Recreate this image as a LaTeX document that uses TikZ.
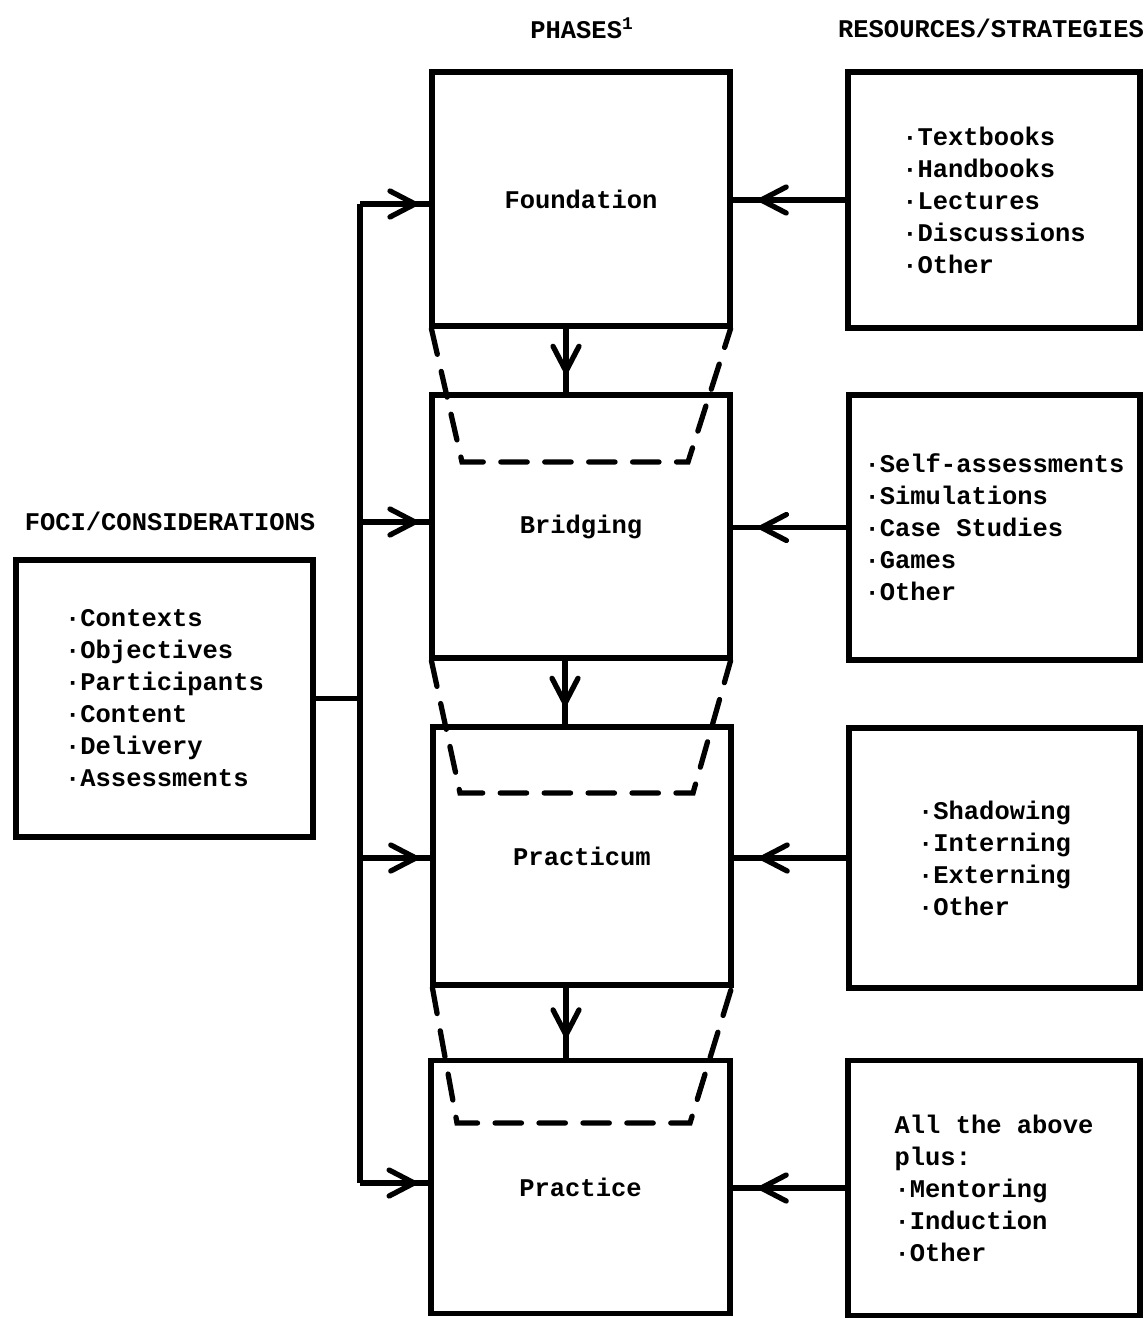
\documentclass[tikz,border=0pt]{standalone}
\usepackage{fontspec}
\setmainfont{Liberation Mono}
\usetikzlibrary{arrows.meta,decorations.markings}
\begin{document}
\begin{tikzpicture}[x=0.02cm,y=-0.02cm,
  txt/.style={font=\fontsize{14.5}{18.2}\selectfont\bfseries},
  box/.style={draw, line width=3pt, inner sep=0pt, align=left, txt},
  conn/.style={line width=3pt},
  barb/.tip={Straight Barb[length=0.5cm,width=0.52cm,line cap=round,line join=round]},
  tipat/.style={conn, postaction={decorate}, decoration={markings, mark=at position #1 with {\arrow{barb}}}},
  trap/.style={line width=3pt, dash pattern=on 15pt off 10pt, line cap=round}
]
\useasboundingbox (0,0) rectangle (1145,1318);

% headers
\node[txt] (hphase) at (582,28) {PHASES\textsuperscript{1}};
\node[txt] (hres) at (991,28) {RESOURCES/STRATEGIES};
\node[txt] (hfoci) at (170,521) {FOCI/CONSIDERATIONS};

% phase boxes
\node[box, minimum width=5.96cm, minimum height=5.08cm] (found) at (581,199) {Foundation};
\node[box, minimum width=5.96cm, minimum height=5.26cm] (bridg) at (581,526.5) {Bridging};
\node[box, minimum width=5.96cm, minimum height=5.16cm] (pract) at (582,856) {Practicum};
\node[box, minimum width=5.98cm, minimum height=5.06cm] (prac) at (580.5,1187) {Practice};

% resource boxes
\node[box, minimum width=5.84cm, minimum height=5.12cm] (res1) at (994,200)
  {·Textbooks\\·Handbooks\\·Lectures\\·Discussions\\·Other};
\node[box, minimum width=5.82cm, minimum height=5.30cm] (res2) at (994.5,527.5)
  {·Self-assessments\\·Simulations\\·Case Studies\\·Games\\·Other};
\node[box, minimum width=5.82cm, minimum height=5.20cm] (res3) at (994.5,858)
  {·Shadowing\\·Interning\\·Externing\\·Other};
\node[box, minimum width=5.84cm, minimum height=5.10cm] (res4) at (994,1188)
  {All the above\\plus:\\·Mentoring\\·Induction\\·Other};

% foci box
\node[box, minimum width=5.94cm, minimum height=5.54cm] (foci) at (164.5,698.5)
  {·Contexts\\·Objectives\\·Participants\\·Content\\·Delivery\\·Assessments};

% bus
\coordinate (b1) at (360,204);
\coordinate (b2) at (360,522);
\coordinate (b3) at (360,858);
\coordinate (b4) at (360,1183);
\draw[conn] (b1) -- (b4);
\draw[conn] (foci.east) -- (foci.east -| b1);
\draw[tipat=0.83] (b1) -- (b1 -| found.west);
\draw[tipat=0.83] (b2) -- (b2 -| bridg.west);
\draw[tipat=0.83] (b3) -- (b3 -| pract.west);
\draw[tipat=0.83] (b4) -- (b4 -| prac.west);

% resource arrows
\draw[tipat=0.77] (res1.west) -- (res1.west -| found.east);
\draw[tipat=0.77] (res2.west) -- (res2.west -| bridg.east);
\draw[tipat=0.77] (res3.west) -- (res3.west -| pract.east);
\draw[tipat=0.77] (res4.west) -- (res4.west -| prac.east);

% down arrows
\draw[tipat=0.71] ([xshift=-0.3cm]found.south) -- ([xshift=-0.3cm]found.south |- bridg.north);
\draw[tipat=0.71] ([xshift=-0.32cm]bridg.south) -- ([xshift=-0.32cm]bridg.south |- pract.north);
\draw[tipat=0.71] ([xshift=-0.32cm]pract.south) -- ([xshift=-0.32cm]pract.south |- prac.north);

% dashed trapezoids
\coordinate (t1l) at (462,462);
\coordinate (t1r) at (688,462);
\coordinate (t2l) at (460,793);
\coordinate (t2r) at (693,793);
\coordinate (t3l) at (457,1123);
\coordinate (t3r) at (690,1123);
\draw[trap] ([xshift=0.04cm]found.south west) -- (t1l) -- (t1r) -- ([xshift=-0.04cm]found.south east);
\draw[trap] ([xshift=0.04cm]bridg.south west) -- (t2l) -- (t2r) -- ([xshift=-0.04cm]bridg.south east);
\draw[trap] ([xshift=0.04cm]pract.south west) -- (t3l) -- (t3r) -- ([xshift=-0.04cm]pract.south east);
\end{tikzpicture}
\end{document}
